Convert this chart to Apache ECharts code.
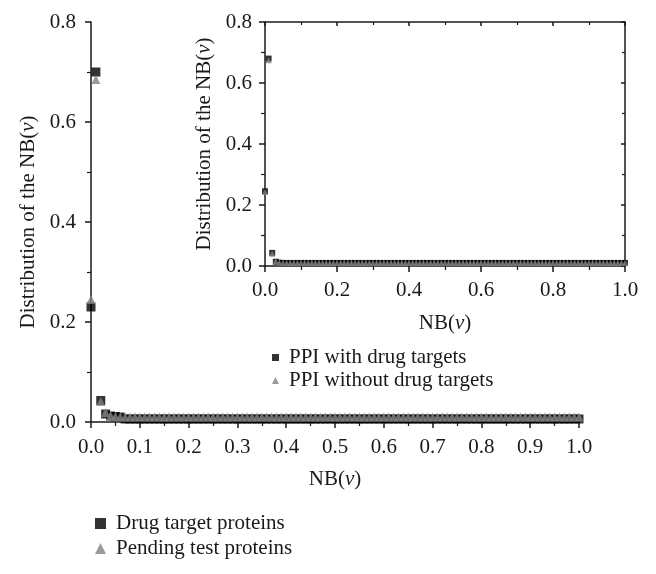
<!DOCTYPE html>
<html>
<head>
<meta charset="utf-8">
<script src="https://cdn.jsdelivr.net/npm/echarts@6/dist/echarts.min.js"></script>
<style>html,body{margin:0;padding:0;background:#fff;}#chart{width:656px;height:574px;}</style>
</head>
<body>
<div id="chart"></div>
<script>
const nbValues = [
  0.00,0.01,0.02,0.03,0.04,0.05,0.06,0.07,0.08,0.09,
  0.10,0.11,0.12,0.13,0.14,0.15,0.16,0.17,0.18,0.19,
  0.20,0.21,0.22,0.23,0.24,0.25,0.26,0.27,0.28,0.29,
  0.30,0.31,0.32,0.33,0.34,0.35,0.36,0.37,0.38,0.39,
  0.40,0.41,0.42,0.43,0.44,0.45,0.46,0.47,0.48,0.49,
  0.50,0.51,0.52,0.53,0.54,0.55,0.56,0.57,0.58,0.59,
  0.60,0.61,0.62,0.63,0.64,0.65,0.66,0.67,0.68,0.69,
  0.70,0.71,0.72,0.73,0.74,0.75,0.76,0.77,0.78,0.79,
  0.80,0.81,0.82,0.83,0.84,0.85,0.86,0.87,0.88,0.89,
  0.90,0.91,0.92,0.93,0.94,0.95,0.96,0.97,0.98,0.99,
  1.00
];
const drugTargetProteins = [
  0.230,0.700,0.043,0.016,0.012,0.011,0.010,0.006,0.006,0.006,
  0.006,0.006,0.006,0.006,0.006,0.006,0.006,0.006,0.006,0.006,
  0.006,0.006,0.006,0.006,0.006,0.006,0.006,0.006,0.006,0.006,
  0.006,0.006,0.006,0.006,0.006,0.006,0.006,0.006,0.006,0.006,
  0.006,0.006,0.006,0.006,0.006,0.006,0.006,0.006,0.006,0.006,
  0.006,0.006,0.006,0.006,0.006,0.006,0.006,0.006,0.006,0.006,
  0.006,0.006,0.006,0.006,0.006,0.006,0.006,0.006,0.006,0.006,
  0.006,0.006,0.006,0.006,0.006,0.006,0.006,0.006,0.006,0.006,
  0.006,0.006,0.006,0.006,0.006,0.006,0.006,0.006,0.006,0.006,
  0.006,0.006,0.006,0.006,0.006,0.006,0.006,0.006,0.006,0.006,
  0.006
];
const pendingTestProteins = [
  0.245,0.685,0.041,0.019,0.013,0.011,0.010,0.010,0.010,0.010,
  0.010,0.010,0.010,0.010,0.010,0.010,0.010,0.010,0.010,0.010,
  0.010,0.010,0.010,0.010,0.010,0.010,0.010,0.010,0.010,0.010,
  0.010,0.010,0.010,0.010,0.010,0.010,0.010,0.010,0.010,0.010,
  0.010,0.010,0.010,0.010,0.010,0.010,0.010,0.010,0.010,0.010,
  0.010,0.010,0.010,0.010,0.010,0.010,0.010,0.010,0.010,0.010,
  0.010,0.010,0.010,0.010,0.010,0.010,0.010,0.010,0.010,0.010,
  0.010,0.010,0.010,0.010,0.010,0.010,0.010,0.010,0.010,0.010,
  0.010,0.010,0.010,0.010,0.010,0.010,0.010,0.010,0.010,0.010,
  0.010,0.010,0.010,0.010,0.010,0.010,0.010,0.010,0.010,0.010,
  0.010
];
const ppiWithDrugTargets = [
  0.245,0.680,0.043,0.014,0.011,0.010,0.010,0.010,0.010,0.010,
  0.010,0.010,0.010,0.010,0.010,0.010,0.010,0.010,0.010,0.010,
  0.010,0.010,0.010,0.010,0.010,0.010,0.010,0.010,0.010,0.010,
  0.010,0.010,0.010,0.010,0.010,0.010,0.010,0.010,0.010,0.010,
  0.010,0.010,0.010,0.010,0.010,0.010,0.010,0.010,0.010,0.010,
  0.010,0.010,0.010,0.010,0.010,0.010,0.010,0.010,0.010,0.010,
  0.010,0.010,0.010,0.010,0.010,0.010,0.010,0.010,0.010,0.010,
  0.010,0.010,0.010,0.010,0.010,0.010,0.010,0.010,0.010,0.010,
  0.010,0.010,0.010,0.010,0.010,0.010,0.010,0.010,0.010,0.010,
  0.010,0.010,0.010,0.010,0.010,0.010,0.010,0.010,0.010,0.010,
  0.010
];
const ppiWithoutDrugTargets = [
  0.243,0.675,0.040,0.015,0.011,0.010,0.010,0.010,0.010,0.010,
  0.010,0.010,0.010,0.010,0.010,0.010,0.010,0.010,0.010,0.010,
  0.010,0.010,0.010,0.010,0.010,0.010,0.010,0.010,0.010,0.010,
  0.010,0.010,0.010,0.010,0.010,0.010,0.010,0.010,0.010,0.010,
  0.010,0.010,0.010,0.010,0.010,0.010,0.010,0.010,0.010,0.010,
  0.010,0.010,0.010,0.010,0.010,0.010,0.010,0.010,0.010,0.010,
  0.010,0.010,0.010,0.010,0.010,0.010,0.010,0.010,0.010,0.010,
  0.010,0.010,0.010,0.010,0.010,0.010,0.010,0.010,0.010,0.010,
  0.010,0.010,0.010,0.010,0.010,0.010,0.010,0.010,0.010,0.010,
  0.010,0.010,0.010,0.010,0.010,0.010,0.010,0.010,0.010,0.010,
  0.010
];
const seriesNames = ['Drug target proteins', 'Pending test proteins', 'PPI with drug targets', 'PPI without drug targets'];

const FONT = 'Liberation Serif';
const FS = 21;
const INK = '#1a1a1a';
const GRAY = '#828282';
const pairs = vals => nbValues.map((x, i) => [x, vals[i]]);
const fmt = v => v.toFixed(1);
const richName = {
  n: { fontFamily: FONT, fontSize: FS, color: INK },
  i: { fontFamily: FONT, fontSize: FS, color: INK, fontStyle: 'italic' }
};
const nbName = prefix => '{n|' + prefix + 'NB(}{i|v}{n|)}';
const label = margin => ({ fontFamily: FONT, fontSize: FS, color: INK, formatter: fmt, margin: margin });

function axisBase(extra) {
  return Object.assign({
    type: 'value',
    axisLine: { show: true, onZero: false, lineStyle: { color: INK, width: 1.5 } },
    axisTick: { show: true, inside: false, length: 6, lineStyle: { color: INK, width: 1.5 } },
    minorTick: { show: true, splitNumber: 2, length: 4, lineStyle: { color: INK, width: 1.2 } },
    splitLine: { show: false }
  }, extra);
}
const innerTick = { show: true, inside: true, length: 4, lineStyle: { color: INK, width: 1.5 } };
const innerMinor = { show: true, splitNumber: 2, length: 3, lineStyle: { color: INK, width: 1.2 } };

const chart = echarts.init(document.getElementById('chart'), null, { renderer: 'canvas' });
chart.setOption({
  animation: false,
  backgroundColor: '#fff',
  grid: [
    { left: 91, right: 77, top: 22, bottom: 152 },
    { left: 265, right: 31, top: 22, bottom: 308 }
  ],
  xAxis: [
    axisBase({ gridIndex: 0, min: 0, max: 1, interval: 0.1, position: 'bottom', axisLabel: label(15),
      name: nbName(''), nameLocation: 'middle', nameGap: 47, nameTextStyle: { rich: richName } }),
    axisBase({ gridIndex: 1, min: 0, max: 1, interval: 0.2, position: 'bottom', axisLabel: label(14),
      name: nbName(''), nameLocation: 'middle', nameGap: 47, nameTextStyle: { rich: richName } }),
    axisBase({ gridIndex: 1, min: 0, max: 1, interval: 0.2, position: 'top',
      axisTick: innerTick, minorTick: innerMinor, axisLabel: { show: false } })
  ],
  yAxis: [
    axisBase({ gridIndex: 0, min: 0, max: 0.8, interval: 0.2, axisLabel: label(15),
      name: nbName('Distribution of the '), nameLocation: 'middle', nameGap: 51, nameRotate: 90,
      nameTextStyle: { rich: richName } }),
    axisBase({ gridIndex: 1, min: 0, max: 0.8, interval: 0.2, position: 'left', axisLabel: label(13),
      name: nbName('Distribution of the '), nameLocation: 'middle', nameGap: 42, nameRotate: 90,
      nameTextStyle: { rich: richName } }),
    axisBase({ gridIndex: 1, min: 0, max: 0.8, interval: 0.2, position: 'right',
      axisTick: innerTick, minorTick: innerMinor, axisLabel: { show: false } })
  ],
  legend: [
    {
      orient: 'vertical', left: 90, top: 508, itemGap: 4, itemWidth: 11, itemHeight: 11,
      textStyle: { fontFamily: FONT, fontSize: FS, color: INK, padding: [0, 0, 0, 5] },
      data: [
        { name: seriesNames[0], icon: 'rect' },
        { name: seriesNames[1], icon: 'triangle' }
      ]
    },
    {
      orient: 'vertical', left: 267, top: 342, itemGap: 2, itemWidth: 7, itemHeight: 7,
      textStyle: { fontFamily: FONT, fontSize: FS, color: INK, padding: [0, 0, 0, 5] },
      data: [
        { name: seriesNames[2], icon: 'rect' },
        { name: seriesNames[3], icon: 'triangle' }
      ]
    }
  ],
  series: [
    { name: seriesNames[0], type: 'scatter', xAxisIndex: 0, yAxisIndex: 0, symbol: 'rect', symbolSize: 9,
      itemStyle: { color: '#000' }, data: pairs(drugTargetProteins), z: 2 },
    { name: seriesNames[1], type: 'scatter', xAxisIndex: 0, yAxisIndex: 0, symbol: 'triangle', symbolSize: 9,
      itemStyle: { color: GRAY }, data: pairs(pendingTestProteins), z: 3 },
    { name: seriesNames[2], type: 'scatter', xAxisIndex: 1, yAxisIndex: 1, symbol: 'rect', symbolSize: 6,
      itemStyle: { color: '#000' }, data: pairs(ppiWithDrugTargets), z: 2 },
    { name: seriesNames[3], type: 'scatter', xAxisIndex: 1, yAxisIndex: 1, symbol: 'triangle', symbolSize: 6,
      itemStyle: { color: GRAY }, data: pairs(ppiWithoutDrugTargets), z: 3 }
  ]
});
</script>
</body>
</html>
